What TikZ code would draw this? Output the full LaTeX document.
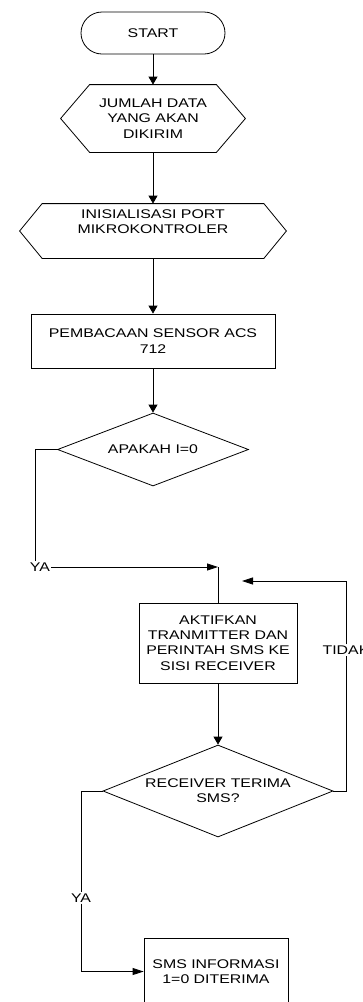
\documentclass[tikz,border=0pt]{standalone}
\usepackage{fontspec}
\setmainfont{Liberation Sans}[FakeStretch=1.26]
\usetikzlibrary{shapes.geometric,arrows.meta}
\begin{document}
\begin{tikzpicture}[x=1pt,y=-1pt, line width=0.8pt,
  every node/.style={font=\fontsize{12.6}{15.3}\selectfont, align=center, inner sep=0pt},
  box/.style={draw, rectangle},
  dia/.style={draw, diamond},
  varrow/.style={-{Triangle[length=8pt,width=9pt]}},
  harrow/.style={-{Triangle[length=11pt,width=7pt]}},
  lbl/.style={fill=white, inner sep=1pt}]
\useasboundingbox (0,0) rectangle (363,1002);

% nodes
\node[draw, rounded corners=21pt, minimum width=144pt, minimum height=42pt] (start) at (153,33) {START};

\node[minimum width=184pt, minimum height=67pt] (h1) at (153,118.5) {JUMLAH DATA\\YANG AKAN\\DIKIRIM};
\draw (h1.west) -- ([xshift=29pt]h1.north west) -- ([xshift=-29pt]h1.north east) -- (h1.east)
  -- ([xshift=-29pt]h1.south east) -- ([xshift=29pt]h1.south west) -- cycle;

\node[minimum width=266pt, minimum height=54pt] (h2) at (153,231)
  {\raisebox{8pt}[\height][\depth]{\begin{tabular}{@{}c@{}}INISIALISASI PORT\\MIKROKONTROLER\end{tabular}}};
\draw (h2.west) -- ([xshift=22.5pt]h2.north west) -- ([xshift=-22.5pt]h2.north east) -- (h2.east)
  -- ([xshift=-22.5pt]h2.south east) -- ([xshift=22.5pt]h2.south west) -- cycle;

\node[box, minimum width=244pt, minimum height=54pt] (b1) at (153,341) {PEMBACAAN SENSOR ACS\\712};

\node[dia, aspect=2.6, minimum width=191pt, minimum height=73pt] (d1) at (153,449.5) {APAKAH I=0};

\node[box, minimum width=158pt, minimum height=80pt] (b2) at (218,643) {AKTIFKAN\\TRANMITTER DAN\\PERINTAH SMS KE\\SISI RECEIVER};

\node[dia, aspect=2.5, minimum width=230pt, minimum height=92pt] (d2) at (218,791) {RECEIVER TERIMA\\SMS?};

\node[box, minimum width=144pt, minimum height=67pt] (b3) at (216,971.5) {SMS INFORMASI\\1=0 DITERIMA};

\coordinate (j1) at (218,567);
\coordinate (j2) at (242,581);
\node[lbl] (ya1) at (40,567) {YA};
\node[lbl] (tidak) at (346,650) {TIDAK};
\node[lbl] (ya2) at (81,898) {YA};

% connectors
\draw[varrow] (start.south) -- (h1.north);
\draw[varrow] (h1.south) -- (h2.north);
\draw[varrow] (h2.south) -- (b1.north);
\draw[varrow] (b1.south) -- (d1.north);
\draw (d1.west) -| ([xshift=-5pt]ya1.north);
\draw[harrow] (ya1.east) -- (j1);
\draw (j1) -- (b2.north);
\draw[varrow] (b2.south) -- (d2.north);
\draw (d2.east) -| (tidak.south);
\draw[harrow] (tidak.north) |- (j2);
\draw (d2.west) -| (ya2.north);
\draw[harrow] (ya2.south) |- (b3.west);
\end{tikzpicture}
\end{document}
